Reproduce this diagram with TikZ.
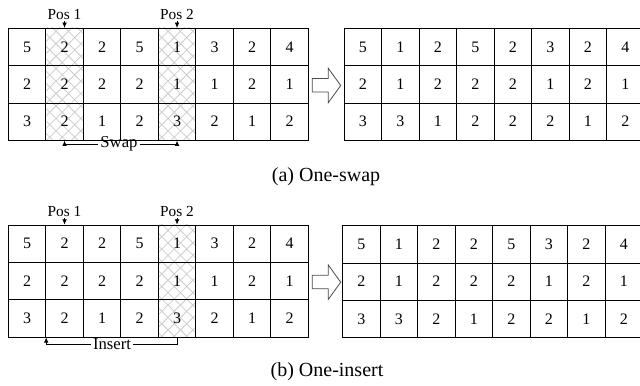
\documentclass[tikz,border=0pt]{standalone}
\usepackage{fontspec}
\setmainfont{Liberation Serif}
\usetikzlibrary{arrows.meta,patterns.meta,backgrounds,positioning}

% one 3x8 block of cells, named <name>-<row>-<col>
\newcommand{\cellgrid}[4]{%
  \foreach \vals [count=\r] in {#4} {
    \foreach \v [count=\c] in \vals {
      \node[cell] (#1-\r-\c) at ({#2+(\c-0.5)*37.5},{#3+(\r-0.5)*37.3}) {\v};
    }
  }
}

\begin{document}
\begin{tikzpicture}[x=0.75pt, y=-0.75pt,
    cell/.style={draw, line width=0.6pt, minimum width=28.125pt, minimum height=27.975pt,
      inner sep=0pt, font=\fontsize{12}{12}\selectfont},
    hatch/.style={pattern={Lines[angle=45,distance=6.6pt,line width=0.6pt]}, pattern color=gray!40,
      postaction={pattern={Lines[angle=-45,distance=6.6pt,line width=0.6pt]}, pattern color=gray!40}},
    poslbl/.style={inner sep=1pt, font=\fontsize{11.5}{11.5}\selectfont},
    movelbl/.style={inner sep=1.5pt, font=\fontsize{12.5}{12.5}\selectfont},
    caption/.style={font=\fontsize{15}{15}\selectfont},
    pin/.style={line width=0.6pt, -{Latex[length=4pt,width=3.5pt]}},
    bigarrow/.style={draw=black!70, fill=white, line width=0.6pt}]
  \useasboundingbox (0,0) rectangle (640,386);
  \clip (0,0) rectangle (640,386);

  % (a) One-swap
  \cellgrid{tl}{8.3}{28.3}{{5,2,2,5,1,3,2,4},{2,2,2,2,1,1,2,1},{3,2,1,2,3,2,1,2}}
  \cellgrid{tr}{344}{28.3}{{5,1,2,5,2,3,2,4},{2,1,2,2,2,1,2,1},{3,3,1,2,2,2,1,2}}
  % (b) One-insert
  \cellgrid{bl}{8.3}{225}{{5,2,2,5,1,3,2,4},{2,2,2,2,1,1,2,1},{3,2,1,2,3,2,1,2}}
  \cellgrid{br}{342.7}{225.7}{{5,1,2,2,5,3,2,4},{2,1,2,2,2,1,2,1},{3,3,2,1,2,2,1,2}}

  % hatched columns
  \begin{scope}[on background layer]
    \foreach \g/\c in {tl/2, tl/5, bl/5} {
      \fill[hatch] (\g-1-\c.north west) rectangle (\g-3-\c.south east);
    }
  \end{scope}

  % positions
  \foreach \g/\c/\n in {tl/2/1, tl/5/2, bl/2/1, bl/5/2} {
    \node[poslbl, above=5pt of \g-1-\c] (\g-pos\n) {Pos \n};
    \draw[pin] (\g-pos\n.south) -- (\g-1-\c.north);
  }

  % moves
  \node[movelbl] (swap) at (119,144) {Swap};
  \draw[pin] (swap.west) -| (tl-3-2.south);
  \draw[pin] (swap.east) -| (tl-3-5.south);
  \node[movelbl] (insert) at (112,344) {Insert};
  \draw[pin] (insert.west) -| (bl-3-1.south east);
  \draw[line width=0.6pt] (insert.east) -| (bl-3-5.south);

  % hollow arrows
  \foreach \dy in {0,196.7} {
    \draw[bigarrow] (312.3,78.5+\dy) -- (328.3,78.5+\dy) -- (328.3,68.3+\dy) -- (340.7,85.5+\dy)
      -- (328.3,102.7+\dy) -- (328.3,92+\dy) -- (312.3,92+\dy) -- cycle;
  }

  \node[caption] (capa) at (326,177) {(a) One-swap};
  \node[caption] (capb) at (327,372) {(b) One-insert};
\end{tikzpicture}
\end{document}
